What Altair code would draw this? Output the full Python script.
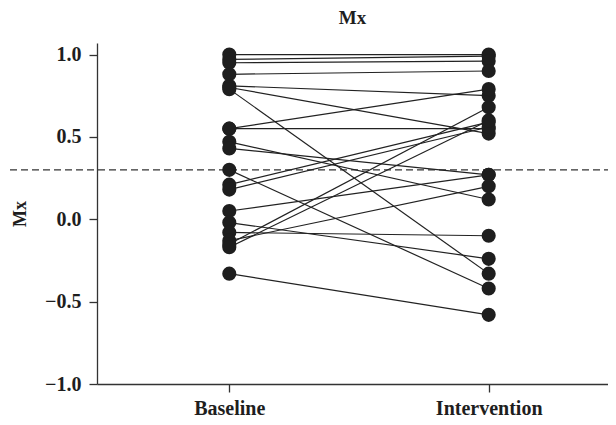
import altair as alt
import pandas as pd

# Paired subject values
baseline = [1.00, 0.97, 0.95, 0.88, 0.81, 0.80, 0.79, 0.55, 0.55, 0.47, 0.43,
            0.30, 0.21, 0.18, 0.05, -0.02, -0.08, -0.13, -0.15, -0.17, -0.33]
intervention = [1.00, 0.99, 0.96, 0.90, 0.75, 0.52, -0.33, 0.79, 0.55, 0.12, 0.27,
                -0.42, 0.59, 0.56, 0.27, -0.24, -0.10, 0.20, 0.68, 0.60, -0.58]
phases = ["Baseline", "Intervention"]
y_ticks = [-1.0, -0.5, 0.0, 0.5, 1.0]
reference_line = [0.3]

rows = []
for i, (b, v) in enumerate(zip(baseline, intervention)):
    rows.append({"id": i, "phase": 0, "value": b})
    rows.append({"id": i, "phase": 1, "value": v})
df = pd.DataFrame(rows)

FONT = "Liberation Serif"
INK = "#1e1e1e"

x_enc = alt.X(
    "phase:Q",
    scale=alt.Scale(domain=[-0.51, 1.46], nice=False, zero=False),
    axis=alt.Axis(
        values=[0, 1],
        labelExpr="datum.value == 0 ? '%s' : '%s'" % (phases[0], phases[1]),
        title=None,
        grid=False,
        tickSize=8,
        labelPadding=6,
    ),
)
y_enc = alt.Y(
    "value:Q",
    scale=alt.Scale(domain=[-1.0, 1.07], nice=False, zero=False),
    axis=alt.Axis(
        values=y_ticks,
        format=".1f",
        title="Mx",
        grid=False,
        tickSize=8,
        labelPadding=8,
        titlePadding=15,
    ),
)

base = alt.Chart(df)

lines = base.mark_line(color="#222222", strokeWidth=1.2).encode(
    x=x_enc, y=y_enc, detail="id:N"
)
points = base.mark_circle(size=200, color=INK, opacity=1).encode(x=x_enc, y=y_enc)

rule = alt.Chart(pd.DataFrame({"y": reference_line})).mark_rule(
    strokeDash=[7, 4], color="#333333", strokeWidth=1.2
).encode(y="y:Q", x=alt.value(-87), x2=alt.value(511))

chart = (
    alt.layer(rule, lines, points)
    .properties(
        width=511,
        height=341,
        autosize=alt.AutoSizeParams(type="none"),
        padding={"left": 89, "top": 35, "right": 0, "bottom": 40},
        title=alt.TitleParams(
            "Mx", font=FONT, fontSize=19, fontWeight="bold", color=INK,
            anchor="middle", offset=15,
        ),
    )
    .configure_view(stroke=None)
    .configure_axis(
        labelFont=FONT,
        labelFontSize=20,
        labelFontWeight="bold",
        labelColor=INK,
        titleFont=FONT,
        titleFontSize=18,
        titleFontWeight="bold",
        titleColor=INK,
        domainColor="#333333",
        tickColor="#333333",
        domainWidth=1.3,
        tickWidth=1.3,
    )
)

chart.save("out.html", embed_options={"renderer": "svg", "actions": False})
